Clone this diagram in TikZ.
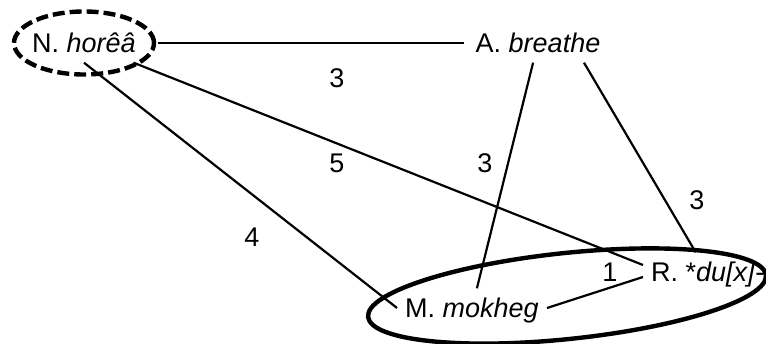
\documentclass[tikz,border=0pt]{standalone}
\usepackage{fontspec}
\setmainfont{Liberation Sans}
\usetikzlibrary{calc}
\tikzset{
  lx word/.style={
    inner xsep=8pt, inner ysep=10pt,
    text height=19pt, text depth=0pt,
    font=\fontsize{27}{30}\selectfont
  },
  lx weight/.style={
    inner sep=0pt, text height=19pt, text depth=0pt,
    font=\fontsize{27}{30}\selectfont
  },
  lx link/.style={
    draw=black, line width=2.2pt
  },
  lx focus/.style={
    draw=black, line width=4.4pt, dash pattern=on 12pt off 5pt
  },
  lx group/.style={
    draw=black, line width=4.4pt
  }
}

\begin{document}
\begin{tikzpicture}[x=1pt, y=1pt]
  \useasboundingbox (0,0) rectangle (766,343);
  % Words
  \node (hor) [lx word, inner xsep=22pt] at (84,300) {N. \textit{horêâ}};
  \node (bre) [lx word, inner xsep=12pt] at (538,300) {A. \textit{breathe}};
  \node (mok) [lx word] at (472,35) {M. \textit{mokheg}};
  \node (dux) [lx word, anchor=west] at (643,71) {R. *\textit{du[x]}-};
  % Circled groups
  \draw [lx focus] (hor.center) ellipse [x radius=70, y radius=31.5];
  \draw [lx group, shift={(567,47)}, rotate=6] (0,0) ellipse [x radius=200, y radius=43];
  % Links
  \draw [lx link] (hor) -- (bre);
  \draw [lx link] (hor) -- ([yshift=7pt]dux.west);
  \draw [lx link] (hor.south) -- (mok.west);
  \draw [lx link] (bre) -- (mok);
  \draw [lx link] ([xshift=46pt]bre.south) -- ([xshift=-12pt]dux.north);
  \draw [lx link] (mok.east) -- ([yshift=-5pt]dux.west);
  % Weights
  \node (wHB) [lx weight] at (337,265) {3};
  \node (wHD) [lx weight] at (337,180) {5};
  \node (wBM) [lx weight] at (485,180) {3};
  \node (wBD) [lx weight] at (697,143) {3};
  \node (wHM) [lx weight] at (252,106) {4};
  \node (wMD) [lx weight] at (610,71) {1};
\end{tikzpicture}
\end{document}
